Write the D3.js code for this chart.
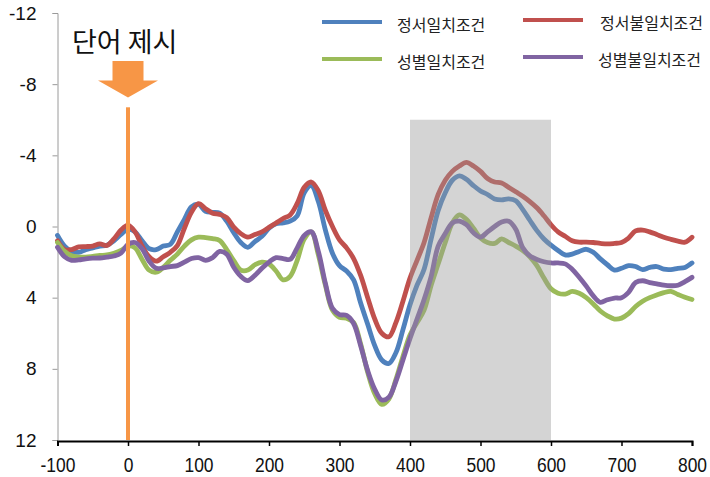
<!DOCTYPE html>
<html><head><meta charset="utf-8">
<script src="https://cdn.jsdelivr.net/npm/d3@7"></script>
<style>
html,body{margin:0;padding:0;background:#fff;}
svg{display:block;}
</style></head>
<body>
<svg id="chart" width="710" height="477"></svg>
<script>
const times = d3.range(-100, 801, 10);
const seriesNames = ["정서일치조건", "정서불일치조건", "성별일치조건", "성별불일치조건"];
const seriesColors = ["#4F81BD", "#C0504D", "#9BBB59", "#8064A2"];
const xTicks = [-100, 0, 100, 200, 300, 400, 500, 600, 700, 800];
const yTicks = [-12, -8, -4, 0, 4, 8, 12];
const titleText = "단어 제시";
const windowRange = [400, 600];
const windowTop = -6;
const onsetTime = 0;
const onsetTop = -6.7;

const blueVals = [0.5,1.1,1.4,1.45,1.3,1.2,1.1,1.05,0.8,0.45,
 0.15,0.3,0.8,1.25,1.3,1.1,1.0,0.3,-0.4,-1.1,
 -1.25,-0.85,-0.8,-0.75,-0.3,0.35,0.9,1.17,0.85,0.55,
 0.1,-0.15,-0.2,-0.3,-0.6,-1.9,-2.3,-1.4,0.2,1.5,
 2.2,2.5,3.0,4.3,5.5,6.7,7.5,7.7,7.1,5.8,
 4.4,3.3,2.4,0.7,-0.9,-1.9,-2.6,-2.85,-2.65,-2.3,
 -2.0,-1.8,-1.55,-1.5,-1.55,-1.45,-0.95,-0.35,0.23,0.7,
 1.05,1.35,1.6,1.55,1.4,1.28,1.45,1.82,2.15,2.45,
 2.35,2.2,2.25,2.42,2.3,2.25,2.4,2.42,2.35,2.3,2.05];
const redVals = [0.8,1.3,1.3,1.15,1.13,1.1,0.98,1.07,0.7,0.2,
 -0.08,0.3,1.1,1.7,1.95,1.7,1.45,1.07,0.1,-0.8,
 -1.28,-1.0,-0.75,-0.68,-0.5,0.04,0.4,0.6,0.45,0.3,
 0.05,-0.2,-0.45,-0.65,-1.3,-2.2,-2.5,-2.0,-0.9,0.0,
 0.75,1.2,1.8,2.75,4.0,5.2,6.0,6.2,5.4,4.2,
 2.9,1.9,0.9,-0.5,-1.8,-2.6,-3.1,-3.4,-3.6,-3.4,
 -3.1,-2.7,-2.5,-2.45,-2.2,-1.95,-1.7,-1.4,-1.05,-0.6,
 -0.1,0.3,0.55,0.8,0.88,0.88,0.9,0.95,0.98,0.95,
 0.9,0.65,0.25,0.2,0.3,0.45,0.6,0.72,0.82,0.88,0.6];
const greenVals = [0.9,1.4,1.65,1.72,1.72,1.68,1.63,1.6,1.5,1.35,
 1.1,1.2,1.85,2.45,2.57,2.3,1.9,1.55,1.1,0.75,
 0.6,0.62,0.68,0.78,1.3,1.92,2.45,2.45,2.15,2.0,
 2.1,2.5,3.0,2.8,1.9,0.7,0.3,1.6,3.3,4.7,
 5.1,5.15,5.4,6.6,8.2,9.4,10.0,9.7,8.6,7.3,
 6.1,5.4,4.7,3.3,2.1,0.9,-0.2,-0.65,-0.4,0.1,
 0.65,0.9,0.95,0.7,0.9,1.1,1.35,1.7,2.2,2.9,
 3.5,3.75,3.8,3.65,3.75,4.0,4.35,4.75,5.02,5.2,
 5.15,4.9,4.5,4.2,4.0,3.85,3.72,3.65,3.82,3.98,4.1];
const purpleVals = [1.17,1.7,1.9,1.88,1.82,1.78,1.77,1.72,1.66,1.5,
 1.0,0.9,1.25,1.95,2.35,2.33,2.25,2.2,2.0,1.8,
 1.75,1.9,1.75,1.4,1.55,2.29,2.8,3.04,2.75,2.35,
 2.0,1.75,1.8,1.85,1.2,0.5,0.3,1.4,3.2,4.6,
 4.95,5.0,5.45,6.7,8.1,9.15,9.75,9.6,8.7,7.5,
 6.3,5.2,4.1,2.8,1.1,0.4,-0.2,-0.3,-0.1,0.35,
 0.6,0.3,0.0,-0.25,-0.3,0.15,1.2,1.65,1.85,1.98,
 2.05,2.05,2.1,2.4,2.85,3.35,3.9,4.26,4.12,4.02,
 4.0,3.7,3.15,3.05,3.15,3.22,3.3,3.33,3.3,3.1,2.86];

const seriesValues = [blueVals, redVals, greenVals, purpleVals];

const svg = d3.select("#chart");
const x = d3.scaleLinear().domain([-100, 800]).range([57.5, 692]);
const y = d3.scaleLinear().domain([-12, 12]).range([13, 440]);

const axisFont = "'Liberation Sans', Arial, sans-serif";

// y axis
const yAxis = svg.append("g").attr("transform", `translate(${x(-100)},0)`)
  .call(d3.axisLeft(y).tickValues(yTicks).tickSize(5).tickPadding(16).tickFormat(d3.format("d")));
yAxis.select(".domain").attr("stroke", "#9a9a9a").attr("stroke-width", 1);
yAxis.selectAll(".tick line").attr("stroke", "#9a9a9a");
yAxis.selectAll(".tick text").attr("font-family", axisFont).attr("font-size", 19).attr("fill", "#111")
  .text(d => d < 0 ? "-" + Math.abs(d) : d);

// lines
const line = d3.line().x((d, i) => x(times[i])).y(d => y(d)).curve(d3.curveCatmullRom.alpha(0.5));
const lg = svg.append("g");
seriesValues.forEach((vals, k) => {
  lg.append("path").datum(vals).attr("d", line).attr("fill", "none")
    .attr("stroke", seriesColors[k]).attr("stroke-width", 4.8)
    .attr("stroke-linejoin", "round").attr("stroke-linecap", "round");
});

// gray analysis window (overlay)
svg.append("rect")
  .attr("x", x(windowRange[0])).attr("y", y(windowTop))
  .attr("width", x(windowRange[1]) - x(windowRange[0]))
  .attr("height", y(12) - y(windowTop))
  .attr("fill", "#989898").attr("fill-opacity", 0.42);

// onset bar
svg.append("rect")
  .attr("x", x(onsetTime) - 2).attr("y", y(onsetTop))
  .attr("width", 4).attr("height", y(12) - y(onsetTop))
  .attr("fill", "#F79646");

// arrow
const ax = x(onsetTime);
svg.append("path")
  .attr("d", `M${ax-15.5},${y(-9.3)} L${ax+15.5},${y(-9.3)} L${ax+15.5},${y(-8.2)} L${ax+30},${y(-8.2)} L${ax},${y(-7.25)} L${ax-30},${y(-8.2)} L${ax-15.5},${y(-8.2)} Z`)
  .attr("fill", "#F79646");

svg.append("text").attr("x", 72).attr("y", 52)
  .attr("font-family", "'Noto Sans CJK KR', sans-serif").attr("font-size", 27)
  .attr("fill", "#111").text(titleText);

// x axis
const xAxis = svg.append("g").attr("transform", `translate(0,${y(12) + 1})`)
  .call(d3.axisBottom(x).tickValues(xTicks).tickSize(5).tickPadding(11).tickFormat(d => d < 0 ? "-" + Math.abs(d) : d));
xAxis.select(".domain").attr("stroke", "#000").attr("stroke-width", 2);
xAxis.selectAll(".tick line").attr("stroke", "#000").attr("stroke-width", 1.5);
xAxis.selectAll(".tick text").attr("font-family", axisFont).attr("font-size", 21).attr("fill", "#111")
  .attr("transform", "scale(0.83,1)");

// legend
const legendPos = [[322, 22, 397, 24], [523, 20, 600, 22], [322, 59, 397, 61], [523, 57, 598, 59]];
seriesNames.forEach((name, k) => {
  const p = legendPos[k];
  svg.append("line").attr("x1", p[0]).attr("x2", p[0] + 60).attr("y1", p[1]).attr("y2", p[1])
    .attr("stroke", seriesColors[k]).attr("stroke-width", 4);
  svg.append("text").attr("x", p[2]).attr("y", p[3]).attr("dominant-baseline", "central")
    .attr("font-family", "'Noto Sans CJK KR', sans-serif").attr("font-size", 16)
    .attr("fill", "#222").text(name);
});
</script>
</body></html>
